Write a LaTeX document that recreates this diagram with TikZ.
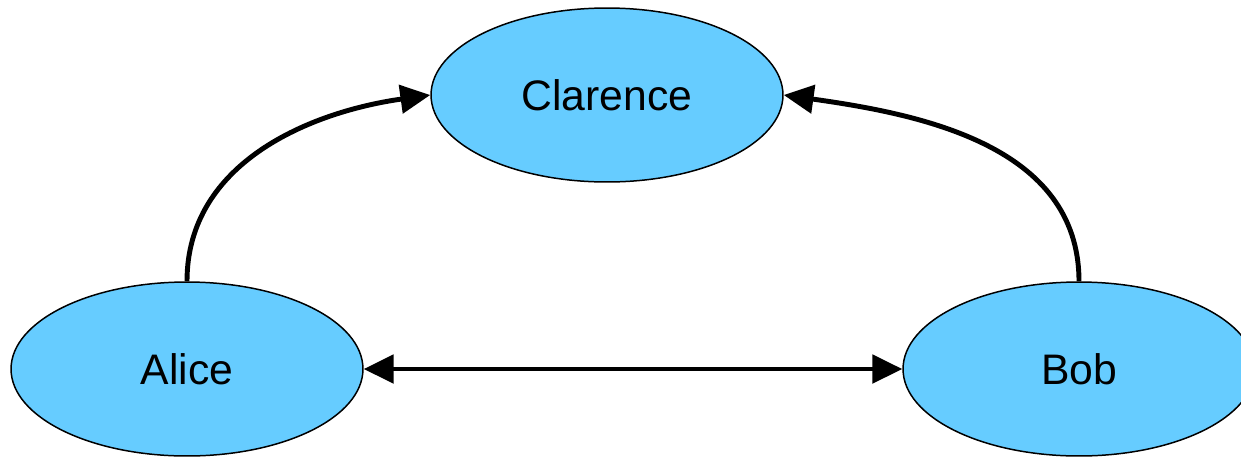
\documentclass[tikz,border=0pt]{standalone}
\usepackage{fontspec}
\setmainfont{Liberation Sans}
\usetikzlibrary{shapes.geometric,arrows.meta}
\definecolor{nodeblue}{HTML}{66CCFF}
\begin{document}
\begin{tikzpicture}[x=0.02cm,y=-0.02cm,
  party/.style={ellipse,draw=black,line width=0.85pt,fill=nodeblue,
    minimum width=7.04cm,minimum height=3.48cm,inner sep=0pt,
    font=\fontsize{24.3}{29}\selectfont},
  link/.style={line width=2.8pt,-{Triangle[length=17pt,width=16pt]}},
  biLink/.style={line width=2.8pt,{Triangle[length=17pt,width=16pt]}-{Triangle[length=17pt,width=16pt]}}]
\useasboundingbox (0,0) rectangle (1241,457);
\node[party] (clarence) at (607,95) {Clarence};
\node[party] (alice) at (187,369) {Alice};
\node[party] (bob) at (1079,369) {Bob};
\draw[link] (alice.north) to[out=90,in=188] (clarence.west);
\draw[link] (bob.north) to[out=90,in=-8] (clarence.east);
\draw[biLink] (alice.east) -- (bob.west);
\end{tikzpicture}
\end{document}
